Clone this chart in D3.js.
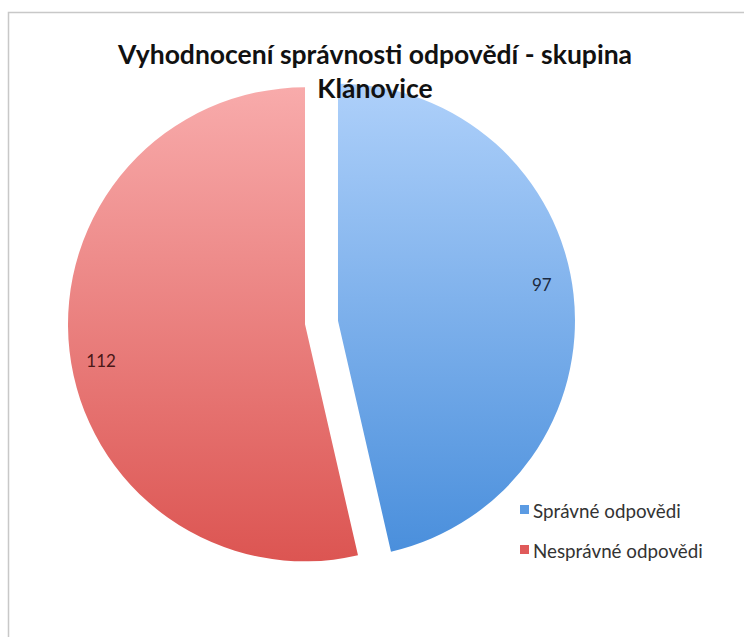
<!DOCTYPE html>
<html><head><meta charset="utf-8">
<script src="https://cdn.jsdelivr.net/npm/d3@7"></script>
<style>html,body{margin:0;padding:0;background:#fff;}svg{display:block;}</style>
</head><body>
<script>
const categories = ["Správné odpovědi", "Nesprávné odpovědi"];
const values = [97, 112];
const titleLines = ["Vyhodnocení správnosti odpovědí - skupina", "Klánovice"];
const colorsTop = ["#aed0fa", "#f8abab"];
const colorsBottom = ["#4a8fdc", "#dc5552"];
const legendColors = ["#5b9be3", "#e05a5a"];
const labelColors = ["#1c2a40", "#4a1818"];

const W = 744, H = 637;
const svg = d3.select("body").append("svg").attr("width", W).attr("height", H);
const font = "Lato, 'Open Sans', sans-serif";

// frame
svg.append("path").attr("d", `M8.5,${H} L8.5,12.5 L${W},12.5`).attr("fill","none").attr("stroke","#c8c8c8").attr("stroke-width",1.5);

const cx = 321.5, cy = 322.5, r = 237, explode = 16.6;
const pie = d3.pie().sort(null).value(d => d)(values);
const arc = d3.arc().innerRadius(0).outerRadius(r);

const defs = svg.append("defs");
values.forEach((v,i) => {
  const g = defs.append("linearGradient").attr("id","g"+i).attr("x1",0).attr("y1",0).attr("x2",0).attr("y2",1);
  g.append("stop").attr("offset","0%").attr("stop-color",colorsTop[i]);
  g.append("stop").attr("offset","100%").attr("stop-color",colorsBottom[i]);
});

const slices = svg.append("g");
pie.forEach((p,i) => {
  const mid = (p.startAngle + p.endAngle)/2;
  const ox = cx + explode*Math.sin(mid), oy = cy - explode*Math.cos(mid);
  const g = slices.append("g").attr("transform",`translate(${ox},${oy})`);
  g.append("path").attr("d", arc(p)).attr("fill", `url(#g${i})`);
  const la = mid - 0.062, lr = 207;
  g.append("text").attr("x", lr*Math.sin(la)).attr("y", -lr*Math.cos(la))
    .attr("text-anchor","middle").attr("dominant-baseline","central")
    .attr("font-family",font).attr("font-size",17).attr("fill",labelColors[i]).text(p.value);
});

// title
const title = svg.append("g").attr("font-family",font).attr("font-weight","bold").attr("font-size",26.5).attr("fill","#111").attr("text-anchor","middle");
titleLines.forEach((t,i) => title.append("text").attr("x",375).attr("y",64 + i*34).text(t));

// legend
const leg = svg.append("g").attr("font-family",font).attr("font-size",18.8).attr("fill","#333");
categories.forEach((c,i) => {
  const y = 509 + i*40;
  leg.append("rect").attr("x",520).attr("y",y-4).attr("width",9).attr("height",9).attr("fill",legendColors[i]);
  leg.append("text").attr("x",533).attr("y",y+1).attr("dominant-baseline","central").text(c);
});
</script>
</body></html>
